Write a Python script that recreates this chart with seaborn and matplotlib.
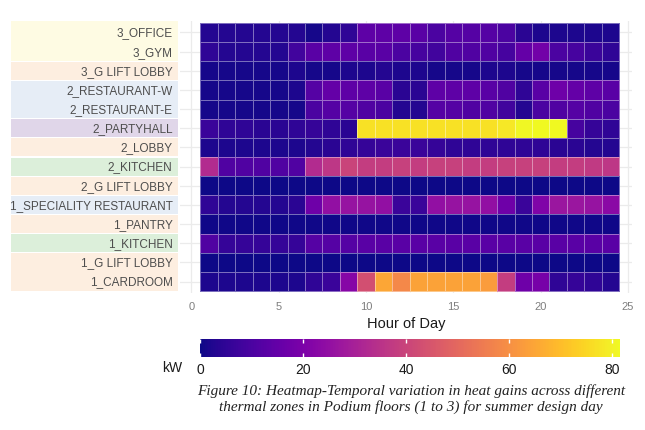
import numpy as np
import pandas as pd
import matplotlib
matplotlib.use("Agg")
import matplotlib.pyplot as plt
import matplotlib.transforms as mtransforms
from matplotlib.patches import Rectangle
import seaborn as sns

# Zones (top to bottom) and hourly heat gains in kW, hours 1..24
hours = list(range(1, 25))
zones = ["3_OFFICE", "3_GYM", "3_G LIFT LOBBY", "2_RESTAURANT-W", "2_RESTAURANT-E",
         "2_PARTYHALL", "2_LOBBY", "2_KITCHEN", "2_G LIFT LOBBY",
         "1_SPECIALITY RESTAURANT", "1_PANTRY", "1_KITCHEN", "1_G LIFT LOBBY", "1_CARDROOM"]
zone_type = ["office", "office", "lobby", "restaurant", "restaurant",
             "party", "lobby", "kitchen", "lobby",
             "restaurant", "lobby", "kitchen", "lobby", "lobby"]

office_3 = [3, 3, 3, 3, 3, 3, 1, 3, 5, 14, 14, 14, 13, 10, 12, 12, 12, 10, 4, 2, 2, 2, 2, 2]
gym_3 = [5, 3, 3, 3, 3, 8, 13, 14, 14, 13, 13, 10, 9, 8, 11, 11, 11, 9, 15, 18, 10, 9, 7, 5]
lift_lobby_3 = [1, 1, 1, 1, 1, 2, 1, 1, 2, 2, 3, 2, 2, 1, 1, 1, 2, 2, 1, 1, 1, 1, 1, 1]
restaurant_w_2 = [1, 1, 1, 1, 1, 2, 12, 15, 14, 14, 13, 4, 4, 14, 14, 14, 13, 11, 5, 13, 17, 15, 14, 13]
restaurant_e_2 = [1, 1, 1, 1, 1, 1, 10, 12, 12, 11, 10, 3, 3, 12, 12, 11, 11, 8, 3, 10, 11, 12, 11, 10]
partyhall_2 = [7, 5, 5, 4, 4, 5, 6, 5, 4, 77, 77, 77, 77, 77, 77, 77, 77, 78, 81, 81.5, 81.5, 9, 6, 5]
lobby_2 = [2, 2, 2, 2, 2, 2, 3, 4, 5, 6, 7, 7, 7, 6, 5, 5, 5, 5, 5, 5, 4, 4, 3, 3]
kitchen_2 = [33, 11, 11, 11, 11, 11, 33, 36, 40, 38, 38, 39, 38, 39, 39, 38, 38, 39, 39, 39, 38, 38, 37, 36]
lift_lobby_2 = [0] * 24
speciality_1 = [5, 3, 3, 3, 3, 4, 17, 25, 26, 26, 25, 7, 7, 25, 26, 26, 25, 17, 7, 21, 27, 27, 26, 23]
pantry_1 = [0.5] * 24
kitchen_1 = [11, 6, 6, 6, 6, 6, 12, 12, 12, 13, 13, 13, 13, 13, 13, 13, 13, 13, 13, 13, 13, 13, 13, 13]
lift_lobby_1 = [0] * 24
cardroom_1 = [2, 2, 2, 2, 2, 2, 5, 7, 22, 43, 65, 58, 64, 64, 64, 64, 63, 38, 17, 19, 5, 6, 5, 3]

values = [office_3, gym_3, lift_lobby_3, restaurant_w_2, restaurant_e_2, partyhall_2,
          lobby_2, kitchen_2, lift_lobby_2, speciality_1, pantry_1, kitchen_1,
          lift_lobby_1, cardroom_1]
df = pd.DataFrame(values, index=zones, columns=hours)

box_colors = {"office": "#fefbe3", "lobby": "#fdeee0", "restaurant": "#e6edf6",
              "party": "#e0d6e9", "kitchen": "#dcefda"}

fig = plt.figure(figsize=(6.45, 4.31), dpi=100)
plt.rcParams['font.family'] = ['Liberation Sans', 'DejaVu Sans']

W, H = 645, 431
ax = fig.add_axes([179.6 / W, 1 - 294 / H, (632.4 - 179.6) / W, 272 / H])
cax = fig.add_axes([200 / W, 1 - 358 / H, 420 / W, 18 / H])

sns.heatmap(df, ax=ax, cmap="plasma", cbar_ax=cax,
            cbar_kws={"orientation": "horizontal"},
            linewidths=0.7, linecolor=(1, 1, 1, 0.42))

# numeric hour axis: hour h sits at heatmap coordinate h - 0.5
xt = [0, 5, 10, 15, 20, 25]
ax.set_xticks([t - 0.5 for t in xt])
ax.set_xticklabels([str(t) for t in xt], rotation=0)
ax.set_xticks([t - 0.5 for t in [2.5, 7.5, 12.5, 17.5, 22.5]], minor=True)
ax.set_xlim(-1.18, 24.75)
ax.set_ylim(14.1, -0.1)
ax.set_yticks(np.arange(len(zones)) + 0.5)
ax.set_yticklabels(zones, rotation=0)

ax.set_axisbelow(True)
ax.grid(True, which="major", color="#ebebeb", lw=0.9)
ax.grid(True, which="minor", axis="x", color="#f3f3f3", lw=0.5)
ax.tick_params(axis="y", length=0, pad=5, labelsize=8.5, labelcolor="#4d4d4d")
ax.tick_params(axis="x", which="both", length=0, pad=6, labelsize=8, labelcolor="#7f7f7f")
ax.set_xlabel("Hour of Day", fontsize=10.5, color="#1a1a1a", labelpad=3.5)
ax.set_ylabel("")

# coloured boxes behind the zone labels, merged for neighbouring rows of one type
trans = mtransforms.blended_transform_factory(fig.transFigure, ax.transData)
start = 0
for i in range(1, len(zones) + 1):
    if i == len(zones) or zone_type[i] != zone_type[start]:
        top = start - (0.12 if start == 0 else -0.03)
        ax.add_patch(Rectangle((11 / W, top), 167 / W, i - 0.03 - top,
                               transform=trans, clip_on=False, zorder=0,
                               facecolor=box_colors[zone_type[start]], edgecolor="none"))
        start = i

# colour bar styling
cbar = ax.collections[0].colorbar
cbar.outline.set_visible(False)
cbar.set_ticks([0, 20, 40, 60, 80])
cax.tick_params(axis="x", direction="in", top=True, bottom=True, color="white",
                length=3, width=1, labelsize=10, labelcolor="#1a1a1a", pad=3.5)
fig.text(172 / W, 1 - 368 / H, "kW", ha="center", va="center", fontsize=10, color="#1a1a1a")

fig.text(411 / W, 1 - 399 / H,
         "Figure 10: Heatmap-Temporal variation in heat gains across different\n"
         "thermal zones in Podium floors (1 to 3) for summer design day",
         ha="center", va="center", fontsize=11, style="italic", linespacing=1.12,
         family=["Liberation Serif", "DejaVu Serif"], color="#222222")

fig.savefig("out.png", dpi=100)
